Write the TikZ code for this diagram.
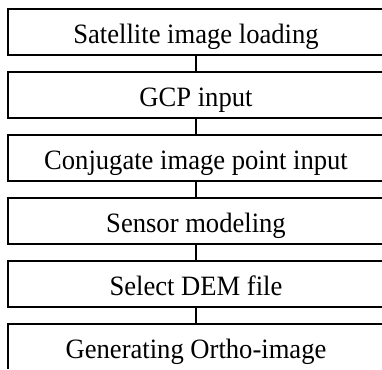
\documentclass[tikz,border=0pt]{standalone}
\usepackage{fontspec}
\setmainfont[FakeStretch=0.95]{Liberation Serif}
\begin{document}
\begin{tikzpicture}[x=1pt,y=1pt,
  stepbox/.style={rectangle, minimum width=376pt, minimum height=46pt, inner sep=0pt, text height=23.5pt, text depth=0pt, font=\fontsize{28}{31}\selectfont},
  frame/.style={line width=1.8pt},
  link/.style={line width=1.3pt}]
\useasboundingbox (0,0) rectangle (382,-369);
\node[stepbox] (b1) at (196,-32) {Satellite image loading};
\node[stepbox] (b2) at (196,-95) {GCP input};
\node[stepbox] (b3) at (196,-158) {Conjugate image point input};
\node[stepbox] (b4) at (196,-221) {Sensor modeling};
\node[stepbox] (b5) at (196,-284) {Select DEM file};
\node[stepbox] (b6) at (196,-347) {Generating Ortho-image};
\foreach \b in {b1,b2,b3,b4,b5}
  \draw[frame] (\b.north west -| 382,0) -- (\b.north west) -- (\b.south west) -- (\b.south west -| 382,0);
\draw[frame] (b6.north west -| 382,0) -- (b6.north west) -- (b6.west |- 0,-369);
\draw[link] (b1) -- (b2);
\draw[link] (b2) -- (b3);
\draw[link] (b3) -- (b4);
\draw[link] (b4) -- (b5);
\draw[link] (b5) -- (b6);
\end{tikzpicture}
\end{document}
